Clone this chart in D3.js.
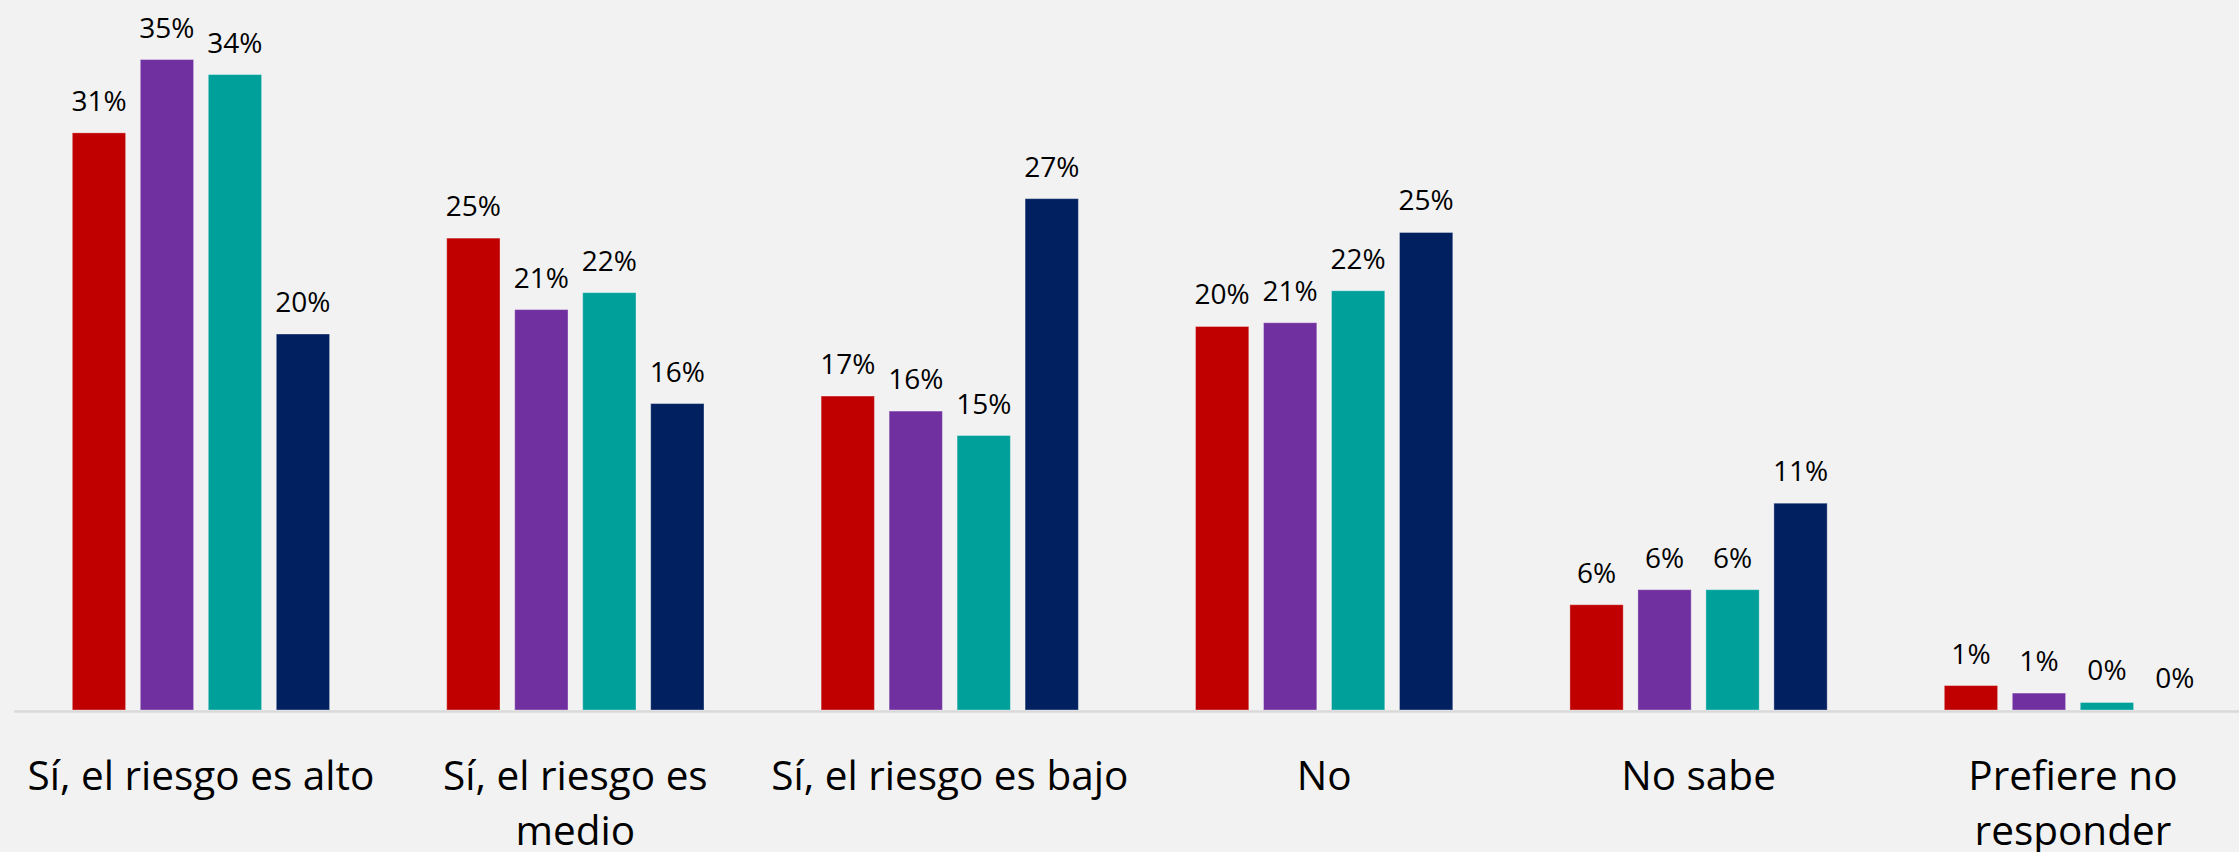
<!DOCTYPE html>
<html>
<head>
<meta charset="utf-8">
<script src="https://cdn.jsdelivr.net/npm/d3@7/dist/d3.min.js"></script>
<style>
  html, body { margin: 0; padding: 0; background: #F2F2F2; }
  svg { display: block; }
</style>
</head>
<body>
<script>
// ---- Data ----
const categories = [
  "Sí, el riesgo es alto",
  "Sí, el riesgo es medio",
  "Sí, el riesgo es bajo",
  "No",
  "No sabe",
  "Prefiere no responder"
];
const seriesNames = ["Serie 1", "Serie 2", "Serie 3", "Serie 4"];
const seriesColors = ["#C00000", "#7030A0", "#00A09A", "#002060"];
const serie1 = [0.307, 0.251, 0.167, 0.204, 0.056, 0.013];
const serie2 = [0.346, 0.213, 0.159, 0.206, 0.064, 0.009];
const serie3 = [0.338, 0.222, 0.146, 0.223, 0.064, 0.004];
const serie4 = [0.200, 0.163, 0.272, 0.254, 0.110, 0.000];
const seriesValues = [serie1, serie2, serie3, serie4];

// ---- Layout ----
const W = 2239, H = 852;
const baseline = 710;
const svg = d3.select("body").append("svg").attr("width", W).attr("height", H);
svg.append("rect").attr("width", W).attr("height", H).attr("fill", "#F2F2F2");

const FONT = "'Segoe UI', 'Open Sans', 'Noto Sans', sans-serif";

const x0 = d3.scaleBand()
  .domain(categories)
  .range([13.75, 2260.15])
  .paddingInner(0.3128)
  .paddingOuter(0.1564);

const x1 = d3.scaleBand()
  .domain(seriesNames)
  .range([0, x0.bandwidth()])
  .paddingInner(0.216)
  .paddingOuter(0);

const y = d3.scaleLinear().domain([0, 0.36]).range([baseline, baseline - 0.36 * 1880]);

const fmt = d3.format(".0%");

const rows = categories.map((c, i) => ({
  cat: c,
  vals: seriesNames.map((s, j) => ({ s, j, v: seriesValues[j][i] }))
}));

const g = svg.append("g");
const groups = g.selectAll("g.grp").data(rows).join("g")
  .attr("class", "grp")
  .attr("transform", d => `translate(${x0(d.cat)},0)`);

groups.selectAll("rect").data(d => d.vals).join("rect")
  .attr("x", d => x1(d.s))
  .attr("y", d => y(d.v))
  .attr("width", x1.bandwidth())
  .attr("height", d => baseline - y(d.v))
  .attr("fill", d => seriesColors[d.j])
  .attr("stroke", "#ffffff")
  .attr("stroke-opacity", 0.35)
  .attr("stroke-width", 1);

groups.selectAll("text.lbl").data(d => d.vals).join("text")
  .attr("class", "lbl")
  .attr("x", d => x1(d.s) + x1.bandwidth() / 2)
  .attr("y", d => y(d.v) - 22)
  .attr("text-anchor", "middle")
  .attr("font-family", FONT)
  .attr("font-size", 28)
  .attr("fill", "#000")
  .text(d => fmt(d.v));

// x axis line
const axis = d3.axisBottom(x0).tickSize(0).tickFormat("");
const ax = svg.append("g").attr("transform", `translate(0,${baseline + 1})`).call(axis);
ax.select(".domain").attr("stroke", "#D9D9D9").attr("stroke-width", 2.5);

// category labels with wrapping
const catG = svg.append("g");
const maxW = 368;
categories.forEach(c => {
  const cx = x0(c) + x0.bandwidth() / 2;
  const t = catG.append("text")
    .attr("x", cx)
    .attr("y", 790)
    .attr("text-anchor", "middle")
    .attr("font-family", FONT)
    .attr("font-size", 40.5)
    .attr("fill", "#000");
  const words = c.split(" ");
  let line = [];
  let ts = t.append("tspan").attr("x", cx).attr("dy", 0);
  words.forEach(w => {
    line.push(w);
    ts.text(line.join(" "));
    if (ts.node().getComputedTextLength() > maxW && line.length > 1) {
      line.pop();
      ts.text(line.join(" "));
      line = [w];
      ts = t.append("tspan").attr("x", cx).attr("dy", 55).text(w);
    }
  });
});
</script>
</body>
</html>
